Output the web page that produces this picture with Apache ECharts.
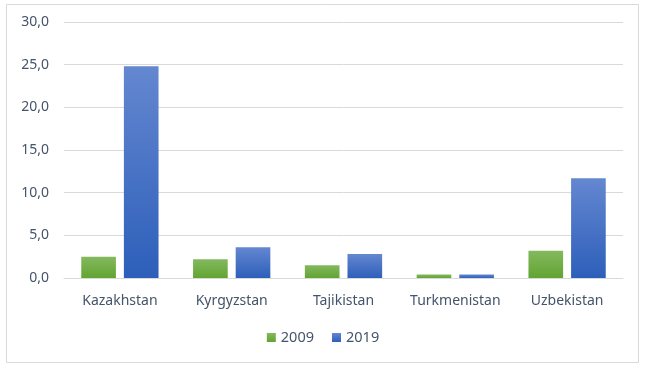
<!DOCTYPE html>
<html><head><meta charset="utf-8">
<script src="https://cdn.jsdelivr.net/npm/echarts@6/dist/echarts.min.js"></script>
<style>html,body{margin:0;padding:0;background:#fff}#c{width:646px;height:370px}</style>
</head><body><div id="c"></div>
<script>
const categories = ["Kazakhstan","Kyrgyzstan","Tajikistan","Turkmenistan","Uzbekistan"];
const values2009 = [2.5, 2.2, 1.5, 0.4, 3.2];
const values2019 = [24.8, 3.6, 2.8, 0.4, 11.7];
const seriesNames = ["2009","2019"];

const chart = echarts.init(document.getElementById('c'), null, {renderer:'canvas'});
const txt = '#44546a';
const font = 'Noto Sans';
function grad(top, bottom){
  return new echarts.graphic.LinearGradient(0,0,0,1,[{offset:0,color:top},{offset:1,color:bottom}]);
}
chart.setOption({
  animation:false,
  graphic:[{type:'rect',shape:{x:6.5,y:4.5,width:632,height:358},style:{fill:'none',stroke:'#d9d9d9',lineWidth:1}}],
  grid:{left:64,right:23,top:22,bottom:92,containLabel:false},
  legend:{bottom:20,left:'center',itemWidth:9,itemHeight:9,itemGap:18,icon:'rect',
    textStyle:{color:txt,fontFamily:font,fontSize:14.5},data:seriesNames},
  xAxis:{type:'category',data:categories,
    axisLine:{lineStyle:{color:'#d9d9d9'}},axisTick:{show:false},
    axisLabel:{color:txt,fontFamily:font,fontSize:14,margin:16,interval:0,hideOverlap:false}},
  yAxis:{type:'value',min:0,max:30,interval:5,
    axisLine:{show:false},axisTick:{show:false},
    splitLine:{lineStyle:{color:'#d9d9d9'}},
    axisLabel:{color:txt,fontFamily:font,fontSize:14,margin:15,
      formatter:v=>v.toFixed(1).replace('.',',')}},
  series:[
    {name:seriesNames[0],type:'bar',data:values2009,barWidth:'31%',barGap:'23%',
     itemStyle:{color:grad('#84b95f','#62a432')}},
    {name:seriesNames[1],type:'bar',data:values2019,barWidth:'31%',barGap:'23%',
     itemStyle:{color:grad('#6487d0','#2d5fba')}}
  ]
});
</script></body></html>
